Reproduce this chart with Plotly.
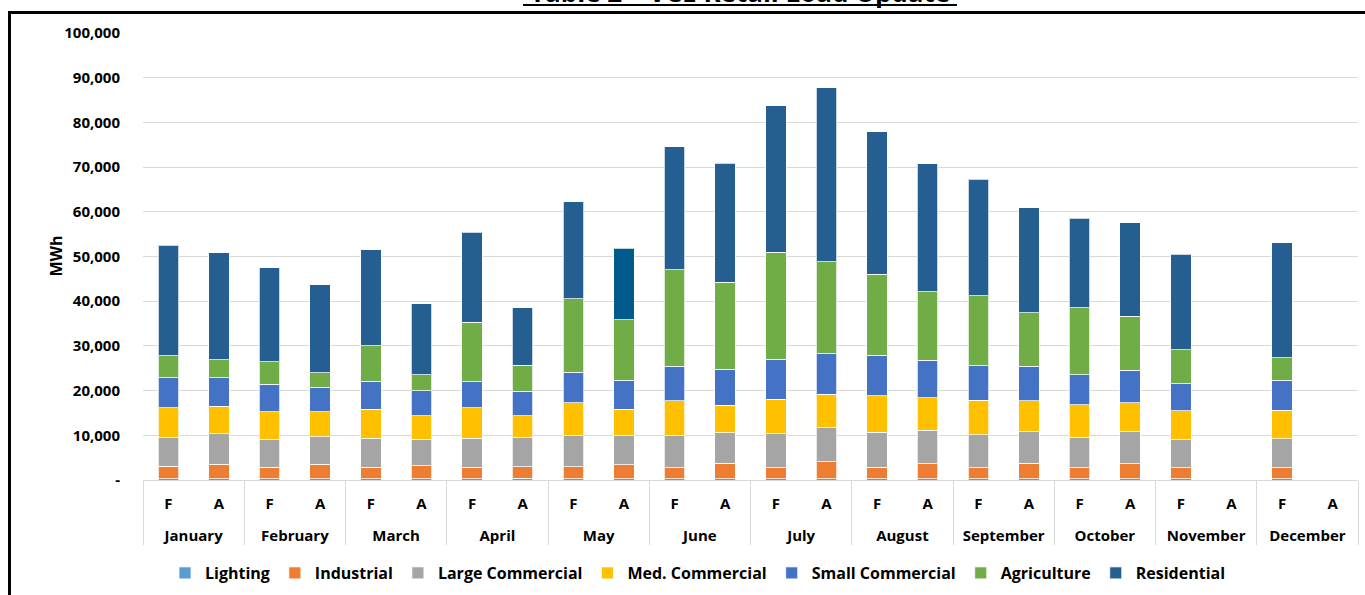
import plotly.graph_objects as go

months = ["January", "February", "March", "April", "May", "June", "July",
          "August", "September", "October", "November", "December"]
kinds = ["F", "A"]

# values in MWh, order per month: F, A
lighting = [300, 300, 300, 300, 300, 300, 300, 400, 300, 300, 300, 300,
            300, 300, 300, 300, 300, 300, 300, 300, 300, None, 300, None]
industrial = [2800, 3200, 2600, 3200, 2600, 2900, 2600, 2600, 2700, 3100, 2400, 3500,
              2400, 3800, 2500, 3300, 2400, 3500, 2400, 3300, 2400, None, 2400, None]
large_commercial = [6400, 6800, 6100, 6200, 6400, 5900, 6400, 6400, 6900, 6500, 7200, 6800,
                    7600, 7600, 7900, 7500, 7400, 7000, 6900, 7200, 6300, None, 6500, None]
med_commercial = [6700, 6200, 6300, 5600, 6500, 5300, 6900, 5000, 7400, 5900, 7800, 6100,
                  7800, 7500, 8100, 7300, 7700, 6900, 7200, 6500, 6500, None, 6400, None]
small_commercial = [6700, 6400, 6100, 5500, 6300, 5600, 5800, 5400, 6800, 6500, 7700, 8100,
                    8900, 9100, 9100, 8400, 7800, 7700, 6800, 7200, 6000, None, 6700, None]
agriculture = [4900, 4000, 5100, 3200, 7900, 3500, 13300, 5900, 16500, 13500, 21600, 19400,
               24000, 20500, 18100, 15300, 15600, 12000, 14900, 12100, 7600, None, 5000, None]
residential = [24700, 23900, 21000, 19700, 21500, 15900, 20100, 12800, 21600, 16100, 27500, 26700,
               32700, 38900, 31900, 28600, 26100, 23500, 20100, 20900, 21400, None, 25800, None]

y_ticks = [0, 10000, 20000, 30000, 40000, 50000, 60000, 70000, 80000, 90000, 100000]
y_ticktext = ["-", "10,000", "20,000", "30,000", "40,000", "50,000", "60,000",
              "70,000", "80,000", "90,000", "100,000"]

# month labels pushed down one line to match the table-like axis
x_month = ["<br>" + m for m in months for _ in kinds]
x_kind = [k for _ in months for k in kinds]

res_colors = ["#255E91"] * 24
res_colors[9] = "#005A8C"

series = [
    ("Lighting", lighting, "#5B9BD5"),
    ("Industrial", industrial, "#ED7D31"),
    ("Large Commercial", large_commercial, "#A5A5A5"),
    ("Med. Commercial", med_commercial, "#FFC000"),
    ("Small Commercial", small_commercial, "#4472C4"),
    ("Agriculture", agriculture, "#70AD47"),
    ("Residential", residential, res_colors),
]

FONT = "Open Sans"
fig = go.Figure()
for name, vals, col in series:
    fig.add_trace(go.Bar(
        name=name, x=[x_month, x_kind], y=vals,
        marker=dict(color=col, line=dict(color="rgba(255,255,255,0.75)", width=1)),
    ))

W, H = 1365, 595
ML, MR, MT, MB = 143, 7, 33, 115
PW, PH = W - ML - MR, H - MT - MB

def px(xp):
    return (xp - ML) / PW

def py(yp):
    return (H - MB - yp) / PH

fig.update_layout(
    width=W, height=H,
    margin=dict(l=ML, r=MR, t=MT, b=MB, autoexpand=False),
    barmode="stack", bargap=0.595,
    paper_bgcolor="white", plot_bgcolor="white",
    font=dict(family=FONT, size=14, color="black"),
    legend=dict(orientation="h", x=px(698), xanchor="center", y=py(573), yanchor="middle",
                font=dict(family=FONT, size=16, color="black", weight="bold"),
                traceorder="normal", itemwidth=30, tracegroupgap=0),
    showlegend=True,
)
fig.update_yaxes(range=[0, 100000], tickvals=y_ticks, ticktext=y_ticktext,
                 showgrid=True, gridcolor="#D9D9D9", gridwidth=1,
                 zeroline=False, showline=False, ticks="",
                 ticklabelstandoff=22,
                 tickfont=dict(family=FONT, size=15, color="black", weight="bold"))
fig.update_xaxes(type="multicategory", showline=True, linecolor="#D9D9D9", linewidth=1,
                 showdividers=True, dividercolor="#D9D9D9", dividerwidth=1,
                 ticks="", showgrid=False, ticklabelstandoff=10,
                 tickfont=dict(family=FONT, size=15, color="black", weight="bold"))

fig.add_annotation(text="<b>MWh</b>", textangle=-90, x=px(42), y=0.5,
                   xref="paper", yref="paper", showarrow=False,
                   font=dict(family=FONT, size=16, color="black"))
fig.add_annotation(text="<b>Table 2 – VCE Retail Load Update</b>", x=px(740), y=py(-8),
                   xref="paper", yref="paper", showarrow=False, yanchor="middle",
                   font=dict(family=FONT, size=26, color="black"))
# title underline
fig.add_shape(type="line", xref="paper", yref="paper", x0=px(523), x1=px(957),
              y0=py(5), y1=py(5), line=dict(color="black", width=2))
# chart box border
fig.add_shape(type="line", xref="paper", yref="paper", x0=px(8), x1=px(1370),
              y0=py(12.5), y1=py(12.5), line=dict(color="black", width=3))
fig.add_shape(type="line", xref="paper", yref="paper", x0=px(9.5), x1=px(9.5),
              y0=py(11), y1=py(600), line=dict(color="black", width=3))

fig.write_html("out.html")
